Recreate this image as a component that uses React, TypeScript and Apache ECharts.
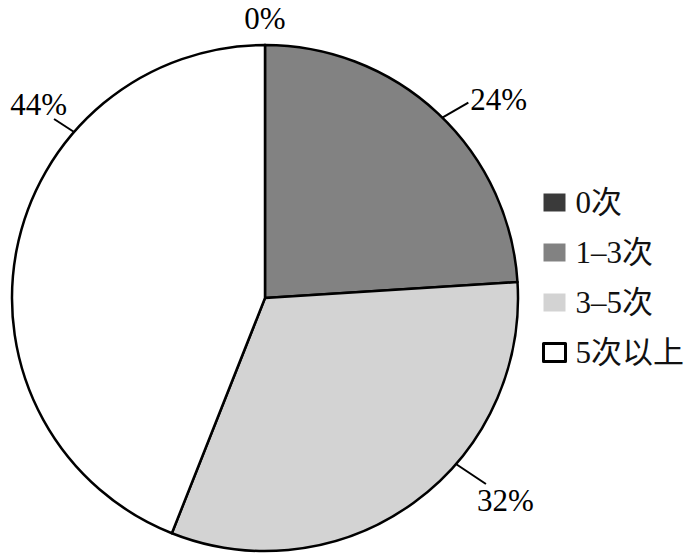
import React, { useEffect, useRef } from "react";
import * as echarts from "echarts";

const categories = ["0次", "1–3次", "3–5次", "5次以上"];
const values = [0, 24, 32, 44];
const labelTexts = ["0%", "24%", "32%", "44%"];

const sliceColors = ["#3a3a3a", "#828282", "#d3d3d3", "#ffffff"];
const CX = 265;
const CY = 298;
const R = 253;
// label placement (angles in degrees, offsets in px)
const labelAngle = [90, 45.5, -41, 139];
const lineDx = [0, 26, 30, -20];
const lineDy = [0, -15, 20, -13];
const textDx = [0, 2, -9, 13];
const textDy = [-27, -3, 17, -15];
const textAlign = ["center", "left", "left", "right"];

export default function App() {
  const ref = useRef<HTMLDivElement>(null);
  useEffect(() => {
    if (!ref.current) return;
    const chart = echarts.init(ref.current, null, { renderer: "svg" });
    const serif = "'Liberation Serif', 'Times New Roman', serif";
    chart.setOption({
      animation: false,
      backgroundColor: "#ffffff",
      legend: {
        orient: "vertical",
        left: 542,
        top: 187,
        padding: 0,
        icon: "rect",
        itemWidth: 22,
        itemHeight: 18,
        itemGap: 19,
        textStyle: {
          fontFamily: "'Liberation Serif', 'Noto Sans CJK SC', serif",
          fontSize: 31,
          color: "#111",
          padding: [0, 0, 0, 5],
        },
        data: categories.map((c, i) => ({
          name: c,
          itemStyle:
            i === 3
              ? { color: "#fff", borderColor: "#000", borderWidth: 3 }
              : { color: sliceColors[i], borderWidth: 0 },
        })),
      },
      series: [
        {
          type: "pie",
          center: [CX, CY],
          radius: R,
          startAngle: 90,
          clockwise: true,
          avoidLabelOverlap: false,
          itemStyle: { borderColor: "#000", borderWidth: 2.5 },
          label: {
            show: true,
            position: "outside",
            fontFamily: serif,
            fontSize: 31,
            color: "#000",
            formatter: (p: any) => labelTexts[p.dataIndex],
          },
          labelLine: {
            show: true,
            length: 10,
            length2: 10,
            lineStyle: { color: "#000", width: 2 },
          },
          emphasis: { disabled: true },
          labelLayout: (p: any) => {
            const i = p.dataIndex;
            const a = (labelAngle[i] * Math.PI) / 180;
            const ex = CX + R * Math.cos(a);
            const ey = CY - R * Math.sin(a);
            const ox = ex + lineDx[i];
            const oy = ey + lineDy[i];
            return {
              x: ox + textDx[i],
              y: oy + textDy[i],
              align: textAlign[i],
              verticalAlign: "middle",
              labelLinePoints: [
                [ex, ey],
                [ox, oy],
                [ox, oy],
              ],
            };
          },
          data: categories.map((c, i) => ({
            name: c,
            value: values[i],
            itemStyle: { color: sliceColors[i] },
            labelLine: i === 0 ? { show: false } : undefined,
          })),
        },
      ],
    });
    return () => chart.dispose();
  }, []);
  return (
    <div
      ref={ref}
      style={{ position: "fixed", left: 0, top: 0, width: 700, height: 560 }}
    />
  );
}
